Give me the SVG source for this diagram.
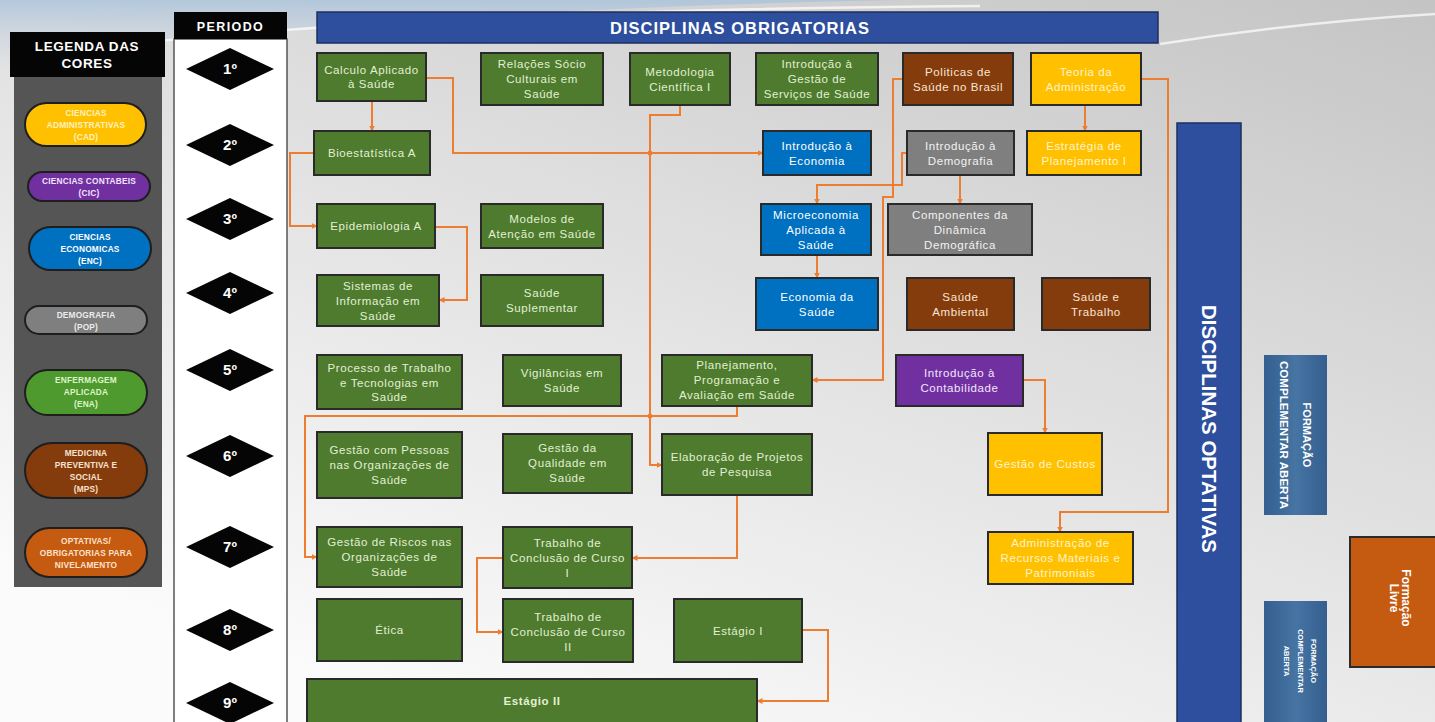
<svg xmlns="http://www.w3.org/2000/svg" width="1435" height="722" viewBox="0 0 1435 722">
<defs>
<linearGradient id="bg" x1="1" y1="0" x2="0.3" y2="1">
<stop offset="0" stop-color="#c4c4c4"/>
<stop offset="0.45" stop-color="#dedede"/>
<stop offset="1" stop-color="#fbfbfb"/>
</linearGradient>
<linearGradient id="sky" x1="0" y1="0" x2="0" y2="1">
<stop offset="0" stop-color="#a9c3dc"/>
<stop offset="1" stop-color="#c9d3dc" stop-opacity="0"/>
</linearGradient>
<linearGradient id="fca" x1="0" y1="0" x2="1" y2="0">
<stop offset="0" stop-color="#345f8f"/>
<stop offset="0.5" stop-color="#4674a3"/>
<stop offset="1" stop-color="#345f8f"/>
</linearGradient>
<marker id="arr" viewBox="0 0 6 6" refX="5.5" refY="3" markerWidth="6" markerHeight="6" markerUnits="userSpaceOnUse" orient="auto">
<path d="M0,0 L6,3 L0,6 z" fill="#ed7d31"/>
</marker>
<style>
.n rect{stroke:#2a2a2a;stroke-width:2}
.g rect{fill:#4e7b2e}
.y rect{fill:#ffc000}
.b rect{fill:#0070c0}
.gr rect{fill:#7f7f7f}
.br rect{fill:#843c0c}
.p rect{fill:#7030a0}
.n text{font-family:"Liberation Sans",Arial,sans-serif;font-size:11.5px;letter-spacing:0.6px;text-anchor:middle}
.g text{fill:#e2f0d4}
.y text{fill:#fff4cc}
.b text{fill:#ffffff}
.gr text{fill:#f2f2f2}
.br text{fill:#fbe5d6}
.p text{fill:#f3e6ff}
.c path{fill:none;stroke:#ed7d31;stroke-width:2;marker-end:url(#arr)}
.lg rect{stroke:#1e1e1e;stroke-width:2}
.lg text{font-family:"Liberation Sans",Arial,sans-serif;font-size:8.3px;font-weight:bold;letter-spacing:0.2px;text-anchor:middle}
.dm polygon{fill:#050505}
.dm text{font-family:"Liberation Sans",Arial,sans-serif;font-size:15px;font-weight:bold;fill:#ffffff;text-anchor:middle}
.hd{font-family:"Liberation Sans",Arial,sans-serif;font-weight:bold;fill:#ffffff;text-anchor:middle}
</style>
</defs>

<!-- background -->
<rect x="0" y="0" width="1435" height="722" fill="url(#bg)"/>
<path d="M0,0 H900 Q500,8 200,38 Q80,52 0,70 Z" fill="url(#sky)" opacity="0.8"/>
<path d="M150,42 Q450,10 980,6" fill="none" stroke="#ffffff" stroke-width="2.5" opacity="0.7"/>
<path d="M1160,44 Q1300,22 1435,14" fill="none" stroke="#ffffff" stroke-width="2.5" opacity="0.7"/>

<!-- legend -->
<g id="legenda">
<rect x="14" y="77" width="148" height="510" fill="#555555"/>
<rect x="10" y="32" width="155" height="45" fill="#050505"/>
<text class="hd" x="87" y="51" font-size="13.5" letter-spacing="0.6">LEGENDA DAS</text>
<text class="hd" x="87" y="68" font-size="13.5" letter-spacing="0.6">CORES</text>
<g class="lg">
<rect x="25" y="103" width="121" height="43" rx="21.5" fill="#ffc000"/>
<text x="86" y="116" fill="#fff2c0">CIENCIAS</text>
<text x="86" y="128" fill="#fff2c0">ADMINISTRATIVAS</text>
<text x="86" y="140" fill="#fff2c0">(CAD)</text>
<rect x="28" y="172" width="122" height="29" rx="14.5" fill="#7030a0"/>
<text x="89" y="184" fill="#f3e4ff">CIENCIAS CONTABEIS</text>
<text x="89" y="196" fill="#f3e4ff">(CIC)</text>
<rect x="29" y="227" width="122" height="43" rx="21.5" fill="#0070c0"/>
<text x="90" y="240" fill="#ffffff">CIENCIAS</text>
<text x="90" y="252" fill="#ffffff">ECONOMICAS</text>
<text x="90" y="264" fill="#ffffff">(ENC)</text>
<rect x="25" y="306" width="122" height="28" rx="14" fill="#7f7f7f"/>
<text x="86" y="318" fill="#ececec">DEMOGRAFIA</text>
<text x="86" y="330" fill="#ececec">(POP)</text>
<rect x="25" y="370" width="122" height="45" rx="22.5" fill="#4e9a2e"/>
<text x="86" y="383" fill="#dff4c8">ENFERMAGEM</text>
<text x="86" y="395" fill="#dff4c8">APLICADA</text>
<text x="86" y="407" fill="#dff4c8">(ENA)</text>
<rect x="25" y="443" width="122" height="55" rx="27.5" fill="#843c0c"/>
<text x="86" y="456" fill="#fbe2d0">MEDICINA</text>
<text x="86" y="468" fill="#fbe2d0">PREVENTIVA E</text>
<text x="86" y="480" fill="#fbe2d0">SOCIAL</text>
<text x="86" y="492" fill="#fbe2d0">(MPS)</text>
<rect x="25" y="528" width="122" height="49" rx="24.5" fill="#c55a11"/>
<text x="86" y="544" fill="#ffe2cc">OPTATIVAS/</text>
<text x="86" y="556" fill="#ffe2cc">OBRIGATORIAS PARA</text>
<text x="86" y="568" fill="#ffe2cc">NIVELAMENTO</text>
</g>
</g>

<!-- period column -->
<g id="periodo">
<rect x="174" y="39" width="113" height="690" fill="#ffffff" stroke="#555555" stroke-width="1.5"/>
<rect x="174" y="12" width="113" height="27" fill="#050505"/>
<text class="hd" x="230.5" y="31" font-size="12.5" letter-spacing="1.4">PERIODO</text>
<g class="dm">
<polygon points="186,69 230,48 274,69 230,90"/><text x="230" y="74">1º</text>
<polygon points="186,145 230,124 274,145 230,166"/><text x="230" y="150">2º</text>
<polygon points="186,219 230,198 274,219 230,240"/><text x="230" y="224">3º</text>
<polygon points="186,293 230,272 274,293 230,314"/><text x="230" y="298">4º</text>
<polygon points="186,370 230,349 274,370 230,391"/><text x="230" y="375">5º</text>
<polygon points="186,456 230,435 274,456 230,477"/><text x="230" y="461">6º</text>
<polygon points="186,547 230,526 274,547 230,568"/><text x="230" y="552">7º</text>
<polygon points="186,630 230,609 274,630 230,651"/><text x="230" y="635">8º</text>
<polygon points="186,703 230,682 274,703 230,724"/><text x="230" y="708">9º</text>
</g>
</g>

<!-- banners -->
<g id="obrigatorias">
<rect x="317" y="12" width="841" height="31" fill="#2e4e9e" stroke="#1f2f5e" stroke-width="1.5"/>
<text class="hd" x="740" y="34" font-size="16.5" letter-spacing="1">DISCIPLINAS OBRIGATORIAS</text>
</g>
<g id="optativas">
<rect x="1177" y="123" width="64" height="610" fill="#2e4e9e" stroke="#1f2f5e" stroke-width="1.5"/>
<text class="hd" x="1209" y="436" font-size="21" transform="rotate(90 1209 429)" textLength="248" lengthAdjust="spacingAndGlyphs">DISCIPLINAS OPTATIVAS</text>
</g>
<g id="formacao-complementar-1">
<rect x="1264" y="355" width="63" height="160" fill="url(#fca)"/>
<g transform="rotate(90 1295.5 435)">
<text class="hd" x="1295.5" y="427.5" font-size="11">FORMAÇÃO</text>
<text class="hd" x="1295.5" y="450.5" font-size="11" textLength="148" lengthAdjust="spacingAndGlyphs">COMPLEMENTAR ABERTA</text>
</g>
</g>
<g id="formacao-complementar-2">
<rect x="1264" y="601" width="63" height="130" fill="url(#fca)"/>
<g transform="rotate(90 1300 661)">
<text class="hd" x="1300" y="650" font-size="7.5">FORMAÇÃO</text>
<text class="hd" x="1300" y="663.5" font-size="7.5">COMPLEMENTAR</text>
<text class="hd" x="1300" y="677" font-size="7.5">ABERTA</text>
</g>
</g>
<g id="formacao-livre">
<rect x="1350" y="537" width="95" height="130" fill="#c55a11" stroke="#2a2a2a" stroke-width="2"/>
<g transform="rotate(90 1402 598)">
<text class="hd" x="1402" y="598" font-size="12">Formação</text>
<text class="hd" x="1402" y="610" font-size="12">Livre</text>
</g>
</g>

<!-- connectors -->
<g id="connectors" class="c">
<path d="M372,101 V131"/>
<path d="M418,78 H453 V153 H763"/>
<path d="M680,105 V115 H650 V465 H662"/>
<path d="M314,153 H290 V226 H317"/>
<path d="M435,227 H467 V300 H439"/>
<path d="M903,79 H893 V197 H883 V380 H812"/>
<path d="M907,153 H902 V185 H817 V204"/>
<path d="M960,175 V204"/>
<path d="M1085,105 V131"/>
<path d="M1141,79 H1168 V512 H1060 V532"/>
<path d="M817,255 V278"/>
<path d="M1023,380 H1045 V433"/>
<path d="M737,406 V416 H305 V557 H317"/>
<path d="M737,495 V558 H632"/>
<path d="M503,558 H477 V632 H503"/>
<path d="M802,630 H828 V701 H757"/>
<circle cx="650" cy="153" r="2.5" fill="#ed7d31"/>
<circle cx="650" cy="416" r="2.5" fill="#ed7d31"/>
</g>

<!-- nodes -->
<g id="calculo" class="n g"><rect x="317" y="53" width="109" height="48"/><text x="371.5" y="74">Calculo Aplicado</text><text x="371.5" y="88">à Saúde</text></g>
<g id="relacoes" class="n g"><rect x="481" y="53" width="122" height="52"/><text x="542" y="68">Relações Sócio</text><text x="542" y="83">Culturais em</text><text x="542" y="98">Saúde</text></g>
<g id="metodologia" class="n g"><rect x="630" y="53" width="100" height="52"/><text x="680" y="76">Metodologia</text><text x="680" y="91">Científica I</text></g>
<g id="intro-gestao" class="n g"><rect x="756" y="53" width="122" height="52"/><text x="817" y="68">Introdução à</text><text x="817" y="83">Gestão de</text><text x="817" y="98">Serviços de Saúde</text></g>
<g id="politicas" class="n br"><rect x="903" y="53" width="110" height="52"/><text x="958" y="76">Politicas de</text><text x="958" y="91">Saúde no Brasil</text></g>
<g id="teoria" class="n y"><rect x="1031" y="53" width="110" height="52"/><text x="1086" y="76">Teoria da</text><text x="1086" y="91">Administração</text></g>
<g id="bioestatistica" class="n g"><rect x="314" y="131" width="116" height="44"/><text x="372" y="157">Bioestatística A</text></g>
<g id="intro-economia" class="n b"><rect x="763" y="131" width="108" height="44"/><text x="817" y="150">Introdução à</text><text x="817" y="165">Economia</text></g>
<g id="intro-demografia" class="n gr"><rect x="907" y="131" width="107" height="44"/><text x="960.5" y="150">Introdução à</text><text x="960.5" y="165">Demografia</text></g>
<g id="estrategia" class="n y"><rect x="1027" y="131" width="114" height="44"/><text x="1084" y="150">Estratégia de</text><text x="1084" y="165">Planejamento I</text></g>
<g id="epidemiologia" class="n g"><rect x="317" y="204" width="118" height="44"/><text x="376" y="230">Epidemiologia A</text></g>
<g id="modelos" class="n g"><rect x="481" y="204" width="122" height="44"/><text x="542" y="223">Modelos de</text><text x="542" y="238">Atenção em Saúde</text></g>
<g id="microeconomia" class="n b"><rect x="761" y="204" width="110" height="51"/><text x="816" y="219">Microeconomia</text><text x="816" y="234">Aplicada à</text><text x="816" y="249">Saúde</text></g>
<g id="componentes" class="n gr"><rect x="888" y="204" width="144" height="51"/><text x="960" y="219">Componentes da</text><text x="960" y="234">Dinâmica</text><text x="960" y="249">Demográfica</text></g>
<g id="sistemas" class="n g"><rect x="317" y="275" width="122" height="51"/><text x="378" y="290">Sistemas de</text><text x="378" y="305">Informação em</text><text x="378" y="320">Saúde</text></g>
<g id="saude-suplementar" class="n g"><rect x="481" y="275" width="122" height="51"/><text x="542" y="297">Saúde</text><text x="542" y="312">Suplementar</text></g>
<g id="economia-saude" class="n b"><rect x="756" y="278" width="122" height="52"/><text x="817" y="301">Economia da</text><text x="817" y="316">Saúde</text></g>
<g id="saude-ambiental" class="n br"><rect x="907" y="278" width="107" height="52"/><text x="960.5" y="301">Saúde</text><text x="960.5" y="316">Ambiental</text></g>
<g id="saude-trabalho" class="n br"><rect x="1042" y="278" width="108" height="52"/><text x="1096" y="301">Saúde e</text><text x="1096" y="316">Trabalho</text></g>
<g id="processo" class="n g"><rect x="317" y="355" width="145" height="54"/><text x="389.5" y="372">Processo de Trabalho</text><text x="389.5" y="387">e Tecnologias em</text><text x="389.5" y="401">Saúde</text></g>
<g id="vigilancias" class="n g"><rect x="503" y="355" width="118" height="51"/><text x="562" y="377">Vigilâncias em</text><text x="562" y="392">Saúde</text></g>
<g id="planejamento" class="n g"><rect x="662" y="355" width="150" height="51"/><text x="737" y="369">Planejamento,</text><text x="737" y="384">Programação e</text><text x="737" y="399">Avaliação em Saúde</text></g>
<g id="contabilidade" class="n p"><rect x="896" y="355" width="127" height="51"/><text x="959.5" y="377">Introdução à</text><text x="959.5" y="392">Contabilidade</text></g>
<g id="gestao-pessoas" class="n g"><rect x="317" y="432" width="145" height="66"/><text x="389.5" y="454">Gestão com Pessoas</text><text x="389.5" y="469">nas Organizações de</text><text x="389.5" y="484">Saúde</text></g>
<g id="gestao-qualidade" class="n g"><rect x="503" y="434" width="129" height="59"/><text x="567.5" y="452">Gestão da</text><text x="567.5" y="467">Qualidade em</text><text x="567.5" y="482">Saúde</text></g>
<g id="elaboracao" class="n g"><rect x="662" y="434" width="150" height="61"/><text x="737" y="461">Elaboração de Projetos</text><text x="737" y="476">de Pesquisa</text></g>
<g id="gestao-custos" class="n y"><rect x="988" y="433" width="114" height="62"/><text x="1045" y="468">Gestão de Custos</text></g>
<g id="gestao-riscos" class="n g"><rect x="317" y="527" width="145" height="60"/><text x="389.5" y="546">Gestão de Riscos nas</text><text x="389.5" y="561">Organizações de</text><text x="389.5" y="576">Saúde</text></g>
<g id="tcc1" class="n g"><rect x="503" y="527" width="129" height="61"/><text x="567.5" y="547">Trabalho de</text><text x="567.5" y="562">Conclusão de Curso</text><text x="567.5" y="577">I</text></g>
<g id="adm-recursos" class="n y"><rect x="988" y="532" width="145" height="52"/><text x="1060.5" y="547">Administração de</text><text x="1060.5" y="562">Recursos Materiais e</text><text x="1060.5" y="577">Patrimoniais</text></g>
<g id="etica" class="n g"><rect x="317" y="599" width="145" height="62"/><text x="389.5" y="634">Ética</text></g>
<g id="tcc2" class="n g"><rect x="503" y="599" width="130" height="63"/><text x="568" y="621">Trabalho de</text><text x="568" y="636">Conclusão de Curso</text><text x="568" y="651">II</text></g>
<g id="estagio1" class="n g"><rect x="674" y="599" width="128" height="63"/><text x="738" y="635">Estágio I</text></g>
<g id="estagio2" class="n g"><rect x="307" y="679" width="450" height="50"/><text x="532" y="705" font-weight="bold">Estágio II</text></g>
</svg>
